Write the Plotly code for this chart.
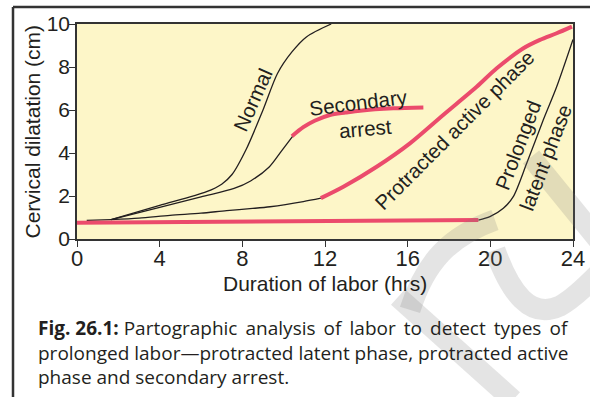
import plotly.graph_objects as go

# ---- data: cervical dilatation (cm) against duration of labor (hrs) ----
stem_x = [0.47, 1.65]
stem_y = [0.87, 0.90]

normal_x = [1.65, 4.0, 6.27, 7.0, 7.5, 8.2, 9.0, 9.7, 10.4, 11.1, 12.3]
normal_y = [0.90, 1.56, 2.20, 2.55, 3.0, 4.2, 6.0, 7.7, 8.7, 9.4, 10.0]

secondary_pre_x = [1.65, 4.0, 6.0, 7.6, 8.4, 9.3, 9.9, 10.45]
secondary_pre_y = [0.90, 1.47, 1.96, 2.35, 2.7, 3.35, 4.1, 4.8]
secondary_arrest_x = [10.4, 10.95, 11.5, 12.24, 13.0, 13.69, 15.3, 16.76]
secondary_arrest_y = [4.78, 5.2, 5.5, 5.77, 5.88, 5.97, 6.08, 6.12]

active_pre_x = [1.65, 3.0, 4.5, 6.0, 7.24, 8.5, 9.34, 10.95, 11.8]
active_pre_y = [0.90, 0.97, 1.10, 1.20, 1.32, 1.42, 1.50, 1.74, 1.90]
protracted_active_x = [11.8, 12.89, 14.5, 16.11, 17.72, 19.34, 20.31, 21.6, 22.4, 23.21, 23.95]
protracted_active_y = [1.90, 2.43, 3.36, 4.45, 5.77, 7.08, 7.94, 8.87, 9.26, 9.57, 9.88]

prolonged_latent_x = [0.0, 19.42]
prolonged_latent_y = [0.76, 0.88]
latent_post_x = [19.42, 19.98, 20.63, 21.11, 21.76, 22.56, 23.21, 24.0]
latent_post_y = [0.88, 1.04, 1.43, 1.97, 3.52, 5.53, 7.08, 9.28]

x_ticks = [0, 4, 8, 12, 16, 20, 24]
y_ticks = [0, 2, 4, 6, 8, 10]
x_title = "Duration of labor (hrs)"
y_title = "Cervical dilatation (cm)"

curve_labels = ["Normal", "Secondary", "arrest", "Protracted active phase",
                "Prolonged", "latent phase"]
label_x = [8.52, 13.6, 13.94, 18.29, 21.34, 22.65]
label_y = [6.47, 6.37, 5.12, 5.07, 4.33, 3.81]
label_angle = [-66, -7, -5, -45, -69, -69]

caption_bold = "Fig. 26.1:"
caption_words_1 = ["Partographic", "analysis", "of", "labor", "to", "detect", "types", "of"]
caption_line_2 = "prolonged labor\u2014protracted latent phase, protracted active"
caption_line_3 = "phase and secondary arrest."

# ---- styling ----
W, H = 590, 397
ML, MR, MT, MB = 77, 17, 24, 158
CHART_FONT = "Liberation Sans, Arial, Helvetica, sans-serif"
CAPTION_FONT = "Open Sans, Noto Sans, sans-serif"
INK = "#231f20"
RED = "#eb4b6c"
PLOT_BG = "#fdf6c8"


def px(x, y):
    """Pixel position on the page -> paper coordinates."""
    return (x - ML) / (W - ML - MR), (H - MB - y) / (H - MT - MB)


def path(points):
    parts = []
    for cmd, pts in points:
        coords = " ".join("%.4f,%.4f" % px(a, b) for a, b in pts)
        parts.append(cmd + coords)
    return " ".join(parts)


fig = go.Figure()

def add_line(xs, ys, color, width):
    fig.add_trace(go.Scatter(x=xs, y=ys, mode="lines",
                             line=dict(color=color, width=width, shape="spline", smoothing=0.8),
                             hoverinfo="skip", showlegend=False))

add_line(stem_x, stem_y, INK, 1.3)
add_line(normal_x, normal_y, INK, 1.3)
add_line(secondary_pre_x, secondary_pre_y, INK, 1.3)
add_line(active_pre_x, active_pre_y, INK, 1.3)
add_line(latent_post_x, latent_post_y, INK, 1.3)
add_line(prolonged_latent_x, prolonged_latent_y, RED, 4)
add_line(secondary_arrest_x, secondary_arrest_y, RED, 4)
add_line(protracted_active_x, protracted_active_y, RED, 4)

for text, x, y, a in zip(curve_labels, label_x, label_y, label_angle):
    fig.add_annotation(x=x, y=y, xref="x", yref="y", text=text, textangle=a,
                       showarrow=False, xanchor="center", yanchor="middle",
                       font=dict(family=CHART_FONT, size=20.5, color=INK))

# axis titles
xp, yp = px(325, 283)
fig.add_annotation(x=xp, y=yp, xref="paper", yref="paper", text=x_title, showarrow=False,
                   xanchor="center", yanchor="middle", font=dict(family=CHART_FONT, size=21, color=INK))
xp, yp = px(32, 131.5)
fig.add_annotation(x=xp, y=yp, xref="paper", yref="paper", text=y_title, showarrow=False,
                   textangle=-90, xanchor="center", yanchor="middle",
                   font=dict(family=CHART_FONT, size=21, color=INK))

# caption below the chart; the first line is widened a little (thin spaces) to sit flush right
wide_gap = " \u2009"
line_1 = "<b>%s</b> " % caption_bold + wide_gap.join(caption_words_1)
caption = "<br>".join([line_1, caption_line_2, caption_line_3])
xp, yp = px(36, 352)
fig.add_annotation(x=xp, y=yp, xref="paper", yref="paper", text=caption,
                   showarrow=False, xanchor="left", yanchor="middle", align="left",
                   font=dict(family=CAPTION_FONT, size=19, color=INK))

# figure frame (top and left rules)
shapes = []
x0, y0 = px(13, 7)
x1, _ = px(W + 5, 7)
_, y1 = px(13, H + 5)
shapes.append(dict(type="line", xref="paper", yref="paper", x0=x0, y0=y0, x1=x1, y1=y0,
                   line=dict(color="#333333", width=2.5)))
shapes.append(dict(type="line", xref="paper", yref="paper", x0=x0, y0=y0, x1=x0, y1=y1,
                   line=dict(color="#333333", width=2.5)))

# faint watermark strokes
wm = dict(type="path", xref="paper", yref="paper", layer="above",
          line=dict(color="rgba(120,120,120,0.2)", width=21))
shapes.append(dict(wm, path=path([("M", [(398, 297)]), ("L", [(513, 400)])])))
shapes.append(dict(wm, path=path([("M", [(410, 310)]), ("C", [(425, 262), (450, 236), (495, 220)])])))
shapes.append(dict(wm, path=path([("M", [(495, 250)]), ("C", [(510, 292), (530, 320), (560, 306)]),
                                  ("C", [(575, 298), (590, 282), (600, 272)])])))
shapes.append(dict(wm, path=path([("M", [(531, 157)]), ("L", [(600, 242)])])))

fig.update_layout(
    width=W, height=H,
    margin=dict(l=ML, r=MR, t=MT, b=MB, pad=0),
    paper_bgcolor="white", plot_bgcolor=PLOT_BG,
    shapes=shapes,
    font=dict(family=CHART_FONT, color=INK),
    xaxis=dict(range=[0, 24], tickvals=x_ticks, ticks="outside", ticklen=6,
               tickcolor="#333333", showline=True, linecolor="#333333", linewidth=1.5,
               mirror=True, showgrid=False, zeroline=False, automargin=False,
               ticklabelstandoff=-7, tickfont=dict(size=22, color=INK)),
    yaxis=dict(range=[0, 10], tickvals=y_ticks, ticks="outside", ticklen=6,
               tickcolor="#333333", showline=True, linecolor="#333333", linewidth=1.5,
               mirror=True, showgrid=False, zeroline=False, automargin=False,
               ticklabelstandoff=-5, tickfont=dict(size=21, color=INK)),
)

fig.write_html("out.html")
